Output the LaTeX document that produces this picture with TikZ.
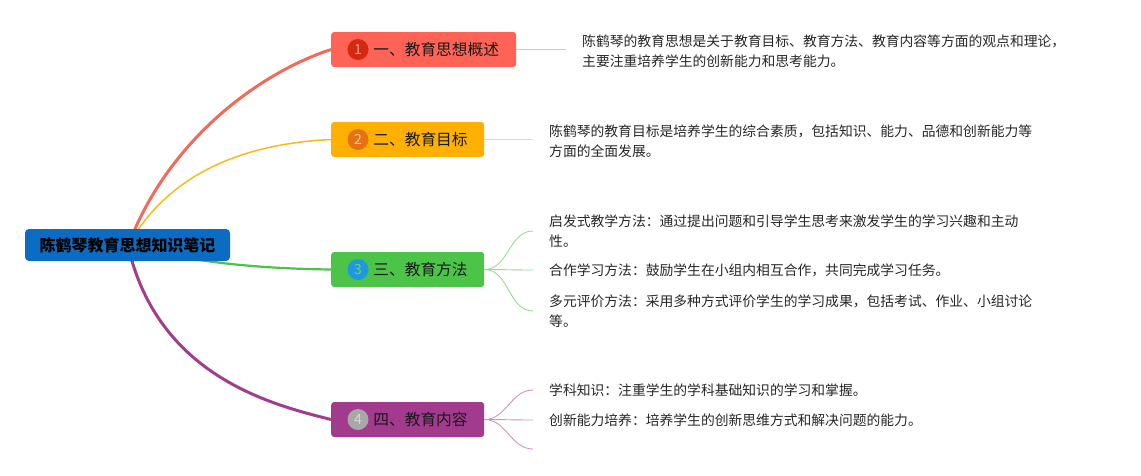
\documentclass[tikz,border=0pt]{standalone}
\usepackage{fontspec}
\setmainfont{Noto Sans CJK SC}
\usetikzlibrary{positioning,backgrounds}
\definecolor{rootblue}{RGB}{12,108,196}
\definecolor{topicred}{RGB}{255,99,85}
\definecolor{linered}{RGB}{242,106,90}
\definecolor{badgered}{RGB}{212,40,15}
\definecolor{topicyellow}{RGB}{255,176,0}
\definecolor{lineyellow}{RGB}{245,186,30}
\definecolor{badgeorange}{RGB}{232,112,20}
\definecolor{topicgreen}{RGB}{76,196,72}
\definecolor{linegreen}{RGB}{78,194,72}
\definecolor{badgeblue}{RGB}{30,152,225}
\definecolor{topicpurple}{RGB}{162,58,142}
\definecolor{linepurple}{RGB}{160,62,140}
\definecolor{badgegray}{RGB}{168,168,168}

\begin{document}
\begin{tikzpicture}[x=1pt,y=-1pt,
    rootbox/.style={fill=rootblue,rounded corners=4pt,minimum width=205pt,
      minimum height=32pt,inner sep=0pt,font=\fontsize{16}{18}\selectfont\bfseries},
    topic/.style={rounded corners=3pt,minimum height=35pt,anchor=west,inner sep=0pt},
    badge/.style={circle,minimum size=21pt,inner sep=0pt,font=\fontsize{14}{14}\selectfont},
    topictext/.style={inner sep=0pt,font=\fontsize{15.7}{18}\selectfont,text=black!90},
    leaf/.style={anchor=west,inner xsep=16pt,inner ysep=0pt,align=left,
      font=\fontsize{13.8}{20}\selectfont,text=black!85}]
  \useasboundingbox (0,0) rectangle (1141,475);

  % root and main topics
  \node[rootbox] (root) at (127.5,245) {陈鹤琴教育思想知识笔记};
  \coordinate (hub) at (128,246);

  \node[topic,fill=topicred,minimum width=185pt] (b1) at (331,49.5) {};
  \node[badge,fill=badgered,text=topicred!60!white] (c1) at ([xshift=27pt]b1.west) {1};
  \node[topictext,right=4.5pt of c1] (t1) {一、教育思想概述};

  \node[topic,fill=topicyellow,minimum width=153pt] (b2) at (331,139.5) {};
  \node[badge,fill=badgeorange,text=topicyellow!50!white] (c2) at ([xshift=27pt]b2.west) {2};
  \node[topictext,right=4.5pt of c2] (t2) {二、教育目标};

  \node[topic,fill=topicgreen,minimum width=153pt] (b3) at (331,269.5) {};
  \node[badge,fill=badgeblue,text=topicgreen!80!white] (c3) at ([xshift=27pt]b3.west) {3};
  \node[topictext,right=4.5pt of c3] (t3) {三、教育方法};

  \node[topic,fill=topicpurple,minimum width=153pt] (b4) at (331,419.5) {};
  \node[badge,fill=badgegray,text=black!15] (c4) at ([xshift=27pt]b4.west) {4};
  \node[topictext,right=4.5pt of c4] (t4) {四、教育内容};

  % branches behind the root
  \begin{scope}[on background layer]
    \draw[linered,line width=3pt] (hub) .. controls +(38,-102) and +(-76,25) .. (b1.west);
    \draw[lineyellow,line width=1.5pt] (hub) .. controls +(25,-45) and +(-125,6) .. (b2.west);
    \draw[linegreen,line width=2.2pt] (hub) .. controls +(60,15) and +(-80,-1) .. (b3.west);
    \draw[linepurple,line width=3pt] (hub) .. controls +(30,130) and +(-60,-15) .. (b4.west);
  \end{scope}

  % leaves
  \node[leaf] (l1) at (566,51) {陈鹤琴的教育思想是关于教育目标、教育方法、教育内容等方面的观点和理论，\\主要注重培养学生的创新能力和思考能力。};
  \draw[topicred!50!white,line width=1pt] (b1.east) -- (b1.east -| l1.west);

  \node[leaf] (l2) at (533,141.5) {陈鹤琴的教育目标是培养学生的综合素质，包括知识、能力、品德和创新能力等\\方面的全面发展。};
  \draw[topicyellow!50!white,line width=1pt] (b2.east) -- (b2.east -| l2.west);

  \node[leaf] (l31) at (533,231) {启发式教学方法：通过提出问题和引导学生思考来激发学生的学习兴趣和主动\\性。};
  \node[leaf] (l32) at (533,270) {合作学习方法：鼓励学生在小组内相互合作，共同完成学习任务。};
  \node[leaf] (l33) at (533,311) {多元评价方法：采用多种方式评价学生的学习成果，包括考试、作业、小组讨论\\等。};
  \foreach \l in {l31,l32,l33}
    \draw[topicgreen!60!white,line width=0.9pt] (b3.east) to[out=0,in=180] (\l.west);

  \node[leaf] (l41) at (533,390) {学科知识：注重学生的学科基础知识的学习和掌握。};
  \node[leaf] (l42) at (533,420) {创新能力培养：培养学生的创新思维方式和解决问题的能力。};
  \coordinate (e43) at (533,449);
  \foreach \l in {l41.west,l42.west,e43}
    \draw[topicpurple!55!white,line width=0.9pt] (b4.east) to[out=0,in=180] (\l);
\end{tikzpicture}
\end{document}
